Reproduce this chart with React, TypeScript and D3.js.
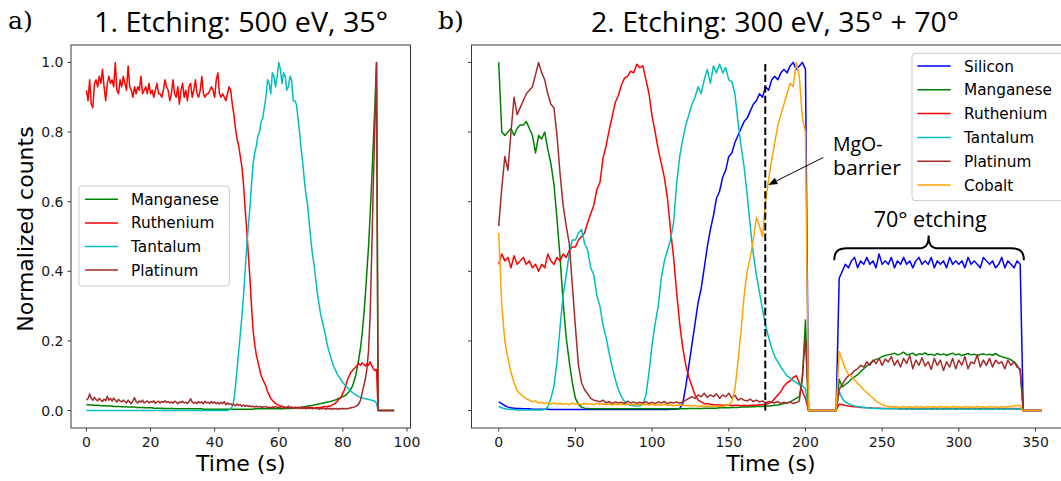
import React from "react";
import * as d3 from "d3";

// ---------- Panel a) : sampled every 0.5 s from t = 0 ----------
const LEFT_STEP = 0.5;
const L_MN = [
  0.017, 0.017, 0.016, 0.016, 0.016, 0.015, 0.015, 0.015, 0.015, 0.014,
  0.014, 0.014, 0.014, 0.013, 0.013, 0.013, 0.013, 0.012, 0.012, 0.012,
  0.012, 0.012, 0.011, 0.011, 0.011, 0.011, 0.010, 0.010, 0.010, 0.010,
  0.010, 0.009, 0.009, 0.009, 0.009, 0.009, 0.008, 0.008, 0.008, 0.008,
  0.008, 0.008, 0.007, 0.007, 0.007, 0.007, 0.007, 0.007, 0.006, 0.006,
  0.006, 0.006, 0.006, 0.006, 0.006, 0.005, 0.005, 0.005, 0.005, 0.005,
  0.005, 0.005, 0.005, 0.005, 0.005, 0.005, 0.005, 0.005, 0.005, 0.005,
  0.005, 0.005, 0.005, 0.004, 0.004, 0.004, 0.004, 0.004, 0.004, 0.004,
  0.004, 0.004, 0.004, 0.004, 0.004, 0.004, 0.004, 0.004, 0.004, 0.004,
  0.004, 0.004, 0.004, 0.004, 0.004, 0.004, 0.004, 0.004, 0.004, 0.004,
  0.004, 0.004, 0.004, 0.004, 0.004, 0.005, 0.005, 0.005, 0.005, 0.005,
  0.005, 0.005, 0.005, 0.005, 0.005, 0.005, 0.005, 0.005, 0.005, 0.005,
  0.005, 0.005, 0.005, 0.005, 0.006, 0.006, 0.006, 0.006, 0.007, 0.007,
  0.007, 0.008, 0.008, 0.009, 0.010, 0.010, 0.011, 0.012, 0.013, 0.013,
  0.014, 0.015, 0.016, 0.017, 0.018, 0.019, 0.020, 0.021, 0.022, 0.023,
  0.024, 0.025, 0.026, 0.027, 0.029, 0.030, 0.032, 0.034, 0.036, 0.038,
  0.040, 0.042, 0.045, 0.050, 0.055, 0.062, 0.070, 0.085, 0.100, 0.125,
  0.150, 0.180, 0.220, 0.270, 0.330, 0.400, 0.470, 0.560, 0.660, 0.770,
  0.880, 1.000, 0, 0, 0, 0, 0, 0, 0, 0,
  0, 0, 0,
];
const L_RU = [
  0.92, 0.89, 0.95, 0.88, 0.87, 0.94, 0.95, 0.93, 0.96, 0.94,
  0.98, 0.93, 0.89, 0.94, 0.96, 0.94, 0.95, 0.93, 1.00, 0.92,
  0.91, 0.95, 0.93, 0.96, 0.94, 0.92, 0.99, 0.93, 0.92, 0.90,
  0.93, 0.91, 0.93, 0.92, 0.96, 0.91, 0.92, 0.93, 0.91, 0.94,
  0.91, 0.92, 0.90, 0.92, 0.94, 0.91, 0.91, 0.90, 0.92, 0.95,
  0.93, 0.92, 0.89, 0.91, 0.95, 0.91, 0.90, 0.93, 0.88, 0.92,
  0.94, 0.90, 0.92, 0.89, 0.93, 0.94, 0.90, 0.92, 0.95, 0.91,
  0.90, 0.92, 0.96, 0.91, 0.90, 0.91, 0.91, 0.92, 0.93, 0.92,
  0.90, 0.95, 0.97, 0.91, 0.90, 0.91, 0.90, 0.89, 0.91, 0.93,
  0.92, 0.88, 0.85, 0.81, 0.78, 0.76, 0.73, 0.70, 0.65, 0.58,
  0.52, 0.45, 0.38, 0.30, 0.23, 0.19, 0.16, 0.14, 0.12, 0.10,
  0.09, 0.08, 0.07, 0.055, 0.045, 0.035, 0.03, 0.025, 0.02, 0.018,
  0.015, 0.013, 0.012, 0.010, 0.008, 0.010, 0.012, 0.008, 0.010, 0.007,
  0.010, 0.008, 0.009, 0.007, 0.008, 0.010, 0.007, 0.008, 0.009, 0.010,
  0.008, 0.009, 0.007, 0.008, 0.009, 0.008, 0.010, 0.009, 0.011, 0.012,
  0.010, 0.013, 0.012, 0.015, 0.018, 0.020, 0.025, 0.030, 0.035, 0.040,
  0.050, 0.060, 0.075, 0.090, 0.100, 0.110, 0.115, 0.120, 0.125, 0.130,
  0.135, 0.130, 0.137, 0.133, 0.128, 0.135, 0.130, 0.140, 0.130, 0.120,
  0.115, 0.118, 0, 0, 0, 0, 0, 0, 0, 0,
  0, 0, 0,
];
const L_TA = [
  0, 0, 0, 0, 0, 0, 0, 0, 0, 0,
  0, 0, 0, 0, 0, 0, 0, 0, 0, 0,
  0, 0, 0, 0, 0, 0, 0, 0, 0, 0,
  0, 0, 0, 0, 0, 0, 0, 0, 0, 0,
  0, 0, 0, 0, 0, 0, 0, 0, 0, 0,
  0, 0, 0, 0, 0, 0, 0, 0, 0, 0,
  0, 0, 0, 0, 0, 0, 0, 0, 0, 0,
  0, 0, 0, 0, 0, 0, 0, 0, 0, 0,
  0, 0, 0, 0, 0, 0, 0, 0, 0, 0.002,
  0.005, 0.012, 0.03, 0.07, 0.12, 0.17, 0.22, 0.27, 0.33, 0.40,
  0.47, 0.53, 0.58, 0.65, 0.71, 0.74, 0.76, 0.79, 0.80, 0.83,
  0.84, 0.87, 0.90, 0.95, 0.94, 0.91, 0.97, 0.96, 0.93, 0.96,
  1.00, 0.98, 0.94, 0.97, 0.96, 0.92, 0.93, 0.96, 0.95, 0.89,
  0.89, 0.88, 0.84, 0.80, 0.75, 0.71, 0.66, 0.62, 0.59, 0.54,
  0.49, 0.45, 0.42, 0.38, 0.34, 0.31, 0.28, 0.26, 0.24, 0.22,
  0.195, 0.175, 0.16, 0.145, 0.13, 0.12, 0.11, 0.10, 0.095, 0.087,
  0.080, 0.075, 0.070, 0.066, 0.060, 0.056, 0.052, 0.048, 0.045, 0.042,
  0.040, 0.038, 0.037, 0.035, 0.034, 0.033, 0.032, 0.031, 0.030, 0.028,
  0.027, 0.020, 0, 0, 0, 0, 0, 0, 0, 0,
  0, 0, 0,
];
const L_PT = [
  0.030, 0.035, 0.048, 0.035, 0.030, 0.038, 0.032, 0.028, 0.035, 0.030,
  0.026, 0.033, 0.028, 0.041, 0.030, 0.035, 0.027, 0.036, 0.030, 0.025,
  0.032, 0.028, 0.025, 0.030, 0.026, 0.022, 0.030, 0.025, 0.020, 0.028,
  0.037, 0.026, 0.022, 0.028, 0.024, 0.030, 0.022, 0.025, 0.028, 0.022,
  0.026, 0.024, 0.028, 0.021, 0.025, 0.027, 0.022, 0.026, 0.024, 0.028,
  0.023, 0.026, 0.022, 0.025, 0.021, 0.027, 0.024, 0.020, 0.025, 0.023,
  0.027, 0.022, 0.024, 0.020, 0.026, 0.034, 0.025, 0.021, 0.024, 0.020,
  0.026, 0.022, 0.025, 0.020, 0.027, 0.022, 0.024, 0.020, 0.026, 0.021,
  0.025, 0.020, 0.023, 0.019, 0.024, 0.020, 0.026, 0.017, 0.022, 0.018,
  0.020, 0.016, 0.018, 0.014, 0.019, 0.015, 0.017, 0.013, 0.016, 0.012,
  0.015, 0.012, 0.014, 0.011, 0.013, 0.010, 0.013, 0.010, 0.012, 0.009,
  0.011, 0.010, 0.012, 0.008, 0.010, 0.008, 0.011, 0.009, 0.012, 0.008,
  0.010, 0.009, 0.013, 0.008, 0.010, 0.007, 0.012, 0.008, 0.010, 0.006,
  0.009, 0.007, 0.010, 0.006, 0.008, 0.006, 0.009, 0.005, 0.008, 0.006,
  0.008, 0.005, 0.007, 0.005, 0.007, 0.004, 0.006, 0.005, 0.007, 0.004,
  0.006, 0.005, 0.006, 0.004, 0.006, 0.005, 0.006, 0.004, 0.006, 0.005,
  0.006, 0.005, 0.006, 0.005, 0.007, 0.008, 0.009, 0.010, 0.012, 0.015,
  0.020, 0.030, 0.050, 0.070, 0.090, 0.120, 0.170, 0.270, 0.450, 0.650,
  0.820, 1.000, 0, 0, 0, 0, 0, 0, 0, 0,
  0, 0, 0,
];

// ---------- Panel b) : sampled every 2 s from t = 0 ----------
const RIGHT_STEP = 2;
const R_SI = [
  0.025, 0.02, 0.014, 0.01, 0.008, 0.007, 0.006, 0.006, 0.005, 0.005,
  0.005, 0.004, 0.004, 0.004, 0.004, 0.004, 0.004, 0.003, 0.003, 0.003,
  0.003, 0.003, 0.003, 0.003, 0.003, 0.003, 0.003, 0.003, 0.003, 0.003,
  0.003, 0.003, 0.003, 0.003, 0.003, 0.003, 0.003, 0.003, 0.003, 0.003,
  0.003, 0.003, 0.003, 0.003, 0.003, 0.003, 0.003, 0.003, 0.003, 0.003,
  0.003, 0.003, 0.003, 0.003, 0.003, 0.003, 0.004, 0.004, 0.004, 0.006,
  0.02, 0.07, 0.13, 0.19, 0.25, 0.31, 0.35, 0.41, 0.47, 0.52,
  0.56, 0.61, 0.63, 0.67, 0.69, 0.73, 0.74, 0.77, 0.79, 0.81,
  0.83, 0.84, 0.86, 0.88, 0.89, 0.91, 0.90, 0.93, 0.92, 0.95,
  0.96, 0.95, 0.97, 0.98, 0.97, 0.99, 1.00, 0.98, 0.99, 1.00,
  0.98, 0, 0, 0, 0, 0, 0, 0, 0, 0,
  0, 0.38, 0.40, 0.42, 0.41, 0.43, 0.44, 0.41, 0.43, 0.42,
  0.44, 0.42, 0.43, 0.41, 0.45, 0.42, 0.43, 0.42, 0.44, 0.41,
  0.43, 0.42, 0.44, 0.42, 0.43, 0.41, 0.43, 0.44, 0.42, 0.43,
  0.42, 0.44, 0.41, 0.43, 0.42, 0.43, 0.41, 0.44, 0.42, 0.43,
  0.42, 0.43, 0.41, 0.44, 0.42, 0.43, 0.42, 0.41, 0.44, 0.43,
  0.42, 0.43, 0.41, 0.42, 0.44, 0.41, 0.43, 0.42, 0.41, 0.43,
  0.42, 0, 0, 0, 0, 0, 0, 0,
];
const R_MN = [
  1.00, 0.80, 0.79, 0.80, 0.81, 0.79, 0.81, 0.82, 0.82, 0.83,
  0.81, 0.79, 0.74, 0.79, 0.78, 0.80, 0.75, 0.71, 0.65, 0.55,
  0.44, 0.31, 0.21, 0.14, 0.08, 0.035, 0.018, 0.010, 0.007, 0.006,
  0.005, 0.005, 0.005, 0.005, 0.005, 0.005, 0.005, 0.005, 0.005, 0.005,
  0.005, 0.005, 0.005, 0.005, 0.005, 0.005, 0.005, 0.005, 0.005, 0.005,
  0.005, 0.005, 0.005, 0.005, 0.005, 0.005, 0.005, 0.005, 0.005, 0.005,
  0.005, 0.005, 0.006, 0.006, 0.006, 0.006, 0.006, 0.007, 0.007, 0.007,
  0.007, 0.007, 0.008, 0.008, 0.008, 0.008, 0.009, 0.009, 0.009, 0.010,
  0.010, 0.010, 0.011, 0.011, 0.012, 0.012, 0.012, 0.013, 0.013, 0.014,
  0.015, 0.016, 0.018, 0.020, 0.022, 0.025, 0.030, 0.035, 0.040, 0.090,
  0.26, 0, 0, 0, 0, 0, 0, 0, 0, 0,
  0, 0.090, 0.068, 0.075, 0.082, 0.090, 0.097, 0.103, 0.112, 0.120,
  0.128, 0.135, 0.142, 0.147, 0.150, 0.155, 0.158, 0.160, 0.162, 0.165,
  0.160, 0.163, 0.168, 0.160, 0.162, 0.165, 0.158, 0.163, 0.161, 0.166,
  0.160, 0.162, 0.158, 0.164, 0.160, 0.163, 0.159, 0.162, 0.165, 0.160,
  0.163, 0.158, 0.161, 0.164, 0.160, 0.162, 0.158, 0.161, 0.163, 0.160,
  0.162, 0.159, 0.164, 0.158, 0.155, 0.152, 0.150, 0.146, 0.140, 0.130,
  0.115, 0, 0, 0, 0, 0, 0, 0,
];
const R_RU = [
  0.42, 0.45, 0.43, 0.44, 0.41, 0.445, 0.42, 0.43, 0.44, 0.42,
  0.43, 0.41, 0.42, 0.40, 0.42, 0.41, 0.45, 0.43, 0.42, 0.44,
  0.43, 0.45, 0.44, 0.46, 0.47, 0.47, 0.49, 0.50, 0.51, 0.54,
  0.565, 0.59, 0.635, 0.655, 0.725, 0.76, 0.805, 0.845, 0.885, 0.905,
  0.935, 0.955, 0.96, 0.975, 0.97, 0.995, 0.985, 0.99, 0.95, 0.91,
  0.845, 0.80, 0.75, 0.71, 0.67, 0.61, 0.52, 0.44, 0.34, 0.25,
  0.18, 0.13, 0.095, 0.07, 0.045, 0.03, 0.025, 0.02, 0.02, 0.018,
  0.017, 0.016, 0.016, 0.015, 0.015, 0.016, 0.014, 0.015, 0.015, 0.014,
  0.015, 0.014, 0.015, 0.015, 0.016, 0.016, 0.017, 0.018, 0.020, 0.025,
  0.035, 0.045, 0.055, 0.070, 0.080, 0.085, 0.095, 0.100, 0.080, 0.055,
  0.035, 0, 0, 0, 0, 0, 0, 0, 0, 0,
  0, 0.019, 0.017, 0.015, 0.013, 0.012, 0.011, 0.010, 0.009, 0.009,
  0.008, 0.008, 0.007, 0.007, 0.007, 0.006, 0.006, 0.006, 0.006, 0.006,
  0.006, 0.005, 0.006, 0.005, 0.006, 0.005, 0.006, 0.005, 0.006, 0.005,
  0.006, 0.005, 0.006, 0.005, 0.006, 0.005, 0.006, 0.005, 0.006, 0.005,
  0.006, 0.005, 0.006, 0.005, 0.006, 0.005, 0.006, 0.005, 0.006, 0.005,
  0.006, 0.005, 0.006, 0.005, 0.006, 0.005, 0.006, 0.005, 0.006, 0.005,
  0.006, 0, 0, 0, 0, 0, 0, 0,
];
const R_TA = [
  0.012, 0.008, 0.005, 0.004, 0.003, 0.003, 0.002, 0.002, 0.002, 0.002,
  0.002, 0.002, 0.002, 0.002, 0.002, 0.003, 0.010, 0.035, 0.070, 0.140,
  0.24, 0.33, 0.39, 0.45, 0.49, 0.49, 0.51, 0.52, 0.48, 0.46,
  0.41, 0.39, 0.33, 0.30, 0.245, 0.21, 0.165, 0.125, 0.09, 0.06,
  0.040, 0.026, 0.018, 0.015, 0.014, 0.013, 0.014, 0.018, 0.045, 0.11,
  0.19, 0.25, 0.30, 0.38, 0.43, 0.46, 0.49, 0.54, 0.65, 0.73,
  0.78, 0.82, 0.85, 0.88, 0.90, 0.93, 0.91, 0.95, 0.98, 0.94,
  0.99, 0.97, 0.995, 0.97, 0.985, 0.95, 0.945, 0.91, 0.83, 0.76,
  0.70, 0.62, 0.53, 0.45, 0.39, 0.34, 0.29, 0.245, 0.21, 0.18,
  0.155, 0.14, 0.125, 0.112, 0.10, 0.094, 0.086, 0.08, 0.075, 0.07,
  0.064, 0, 0, 0, 0, 0, 0, 0, 0, 0,
  0, 0.055, 0.035, 0.025, 0.020, 0.016, 0.013, 0.011, 0.010, 0.009,
  0.008, 0.007, 0.007, 0.006, 0.006, 0.006, 0.005, 0.005, 0.005, 0.005,
  0.005, 0.004, 0.005, 0.004, 0.005, 0.004, 0.005, 0.004, 0.005, 0.004,
  0.005, 0.004, 0.005, 0.004, 0.005, 0.004, 0.005, 0.004, 0.005, 0.004,
  0.005, 0.004, 0.005, 0.004, 0.005, 0.004, 0.005, 0.004, 0.005, 0.004,
  0.005, 0.004, 0.005, 0.004, 0.005, 0.004, 0.005, 0.004, 0.005, 0.004,
  0.005, 0, 0, 0, 0, 0, 0, 0,
];
const R_PT = [
  0.53, 0.64, 0.73, 0.69, 0.80, 0.90, 0.85, 0.87, 0.89, 0.91,
  0.92, 0.93, 0.965, 1.00, 0.97, 0.95, 0.91, 0.88, 0.87, 0.79,
  0.68, 0.59, 0.53, 0.48, 0.36, 0.24, 0.13, 0.08, 0.06, 0.048,
  0.035, 0.030, 0.028, 0.025, 0.030, 0.022, 0.026, 0.020, 0.025, 0.022,
  0.024, 0.020, 0.027, 0.022, 0.025, 0.020, 0.024, 0.021, 0.026, 0.020,
  0.024, 0.020, 0.025, 0.022, 0.026, 0.020, 0.024, 0.022, 0.025, 0.021,
  0.025, 0.030, 0.035, 0.040, 0.035, 0.045, 0.040, 0.050, 0.038, 0.045,
  0.040, 0.048, 0.035, 0.045, 0.040, 0.050, 0.036, 0.044, 0.030, 0.035,
  0.030, 0.028, 0.033, 0.026, 0.030, 0.025, 0.028, 0.022, 0.026, 0.024,
  0.022, 0.026, 0.020, 0.024, 0.021, 0.025, 0.020, 0.023, 0.028, 0.100,
  0.21, 0, 0, 0, 0, 0, 0, 0, 0, 0,
  0, 0.060, 0.075, 0.090, 0.100, 0.105, 0.115, 0.120, 0.130, 0.125,
  0.140, 0.130, 0.145, 0.135, 0.150, 0.130, 0.148, 0.140, 0.155, 0.130,
  0.145, 0.125, 0.150, 0.135, 0.158, 0.120, 0.145, 0.130, 0.152, 0.128,
  0.140, 0.118, 0.150, 0.130, 0.145, 0.115, 0.140, 0.125, 0.150, 0.120,
  0.145, 0.130, 0.155, 0.120, 0.140, 0.135, 0.160, 0.125, 0.145, 0.130,
  0.150, 0.125, 0.145, 0.135, 0.140, 0.120, 0.145, 0.130, 0.140, 0.125,
  0.120, 0, 0, 0, 0, 0, 0, 0,
];
const R_CO = [
  0.51, 0.30, 0.20, 0.15, 0.11, 0.08, 0.058, 0.048, 0.040, 0.034,
  0.030, 0.025, 0.028, 0.022, 0.024, 0.020, 0.023, 0.019, 0.022, 0.018,
  0.021, 0.018, 0.020, 0.017, 0.022, 0.018, 0.020, 0.017, 0.021, 0.018,
  0.020, 0.017, 0.021, 0.018, 0.019, 0.017, 0.020, 0.016, 0.019, 0.017,
  0.019, 0.016, 0.020, 0.017, 0.018, 0.016, 0.019, 0.017, 0.018, 0.016,
  0.018, 0.015, 0.017, 0.016, 0.018, 0.015, 0.017, 0.014, 0.016, 0.015,
  0.016, 0.014, 0.015, 0.013, 0.015, 0.012, 0.014, 0.012, 0.013, 0.012,
  0.013, 0.012, 0.013, 0.012, 0.014, 0.016, 0.025, 0.060, 0.140, 0.230,
  0.33, 0.40, 0.44, 0.49, 0.555, 0.53, 0.50, 0.60, 0.665, 0.72,
  0.77, 0.82, 0.85, 0.88, 0.91, 0.94, 0.93, 1.00, 0.96, 0.84,
  0.80, 0, 0, 0, 0, 0, 0, 0, 0, 0,
  0, 0.170, 0.145, 0.120, 0.105, 0.098, 0.088, 0.078, 0.070, 0.060,
  0.052, 0.044, 0.036, 0.028, 0.022, 0.017, 0.014, 0.012, 0.011, 0.010,
  0.011, 0.009, 0.012, 0.010, 0.011, 0.009, 0.012, 0.010, 0.011, 0.009,
  0.012, 0.010, 0.011, 0.009, 0.012, 0.010, 0.011, 0.009, 0.012, 0.010,
  0.011, 0.009, 0.012, 0.010, 0.011, 0.009, 0.012, 0.010, 0.011, 0.009,
  0.012, 0.010, 0.011, 0.009, 0.012, 0.010, 0.011, 0.012, 0.013, 0.015,
  0.014, 0, 0, 0, 0, 0, 0, 0,
];

const LEFT_X_TICKS = [0, 20, 40, 60, 80, 100];
const RIGHT_X_TICKS = [0, 50, 100, 150, 200, 250, 300, 350];
const Y_TICKS = [0, 0.2, 0.4, 0.6, 0.8, 1.0];
const MGO_TIME = 173.8;

const COLORS: Record<string, string> = {
  Silicon: "#0000ff",
  Manganese: "#008000",
  Ruthenium: "#ff0000",
  Tantalum: "#00bfbf",
  Platinum: "#a52a2a",
  Cobalt: "#ffa500",
};

const LEFT_SERIES: [string, number[]][] = [
  ["Manganese", L_MN],
  ["Ruthenium", L_RU],
  ["Tantalum", L_TA],
  ["Platinum", L_PT],
];
const RIGHT_SERIES: [string, number[]][] = [
  ["Silicon", R_SI],
  ["Manganese", R_MN],
  ["Ruthenium", R_RU],
  ["Tantalum", R_TA],
  ["Platinum", R_PT],
  ["Cobalt", R_CO],
];

const FONT = "'DejaVu Sans', sans-serif";
const TITLE_FONT = "'Open Sans', sans-serif";
const SPINE = "#3a3a3a";
const TXT = "#1a1a1a";

export default function App() {
  const yS = d3.scaleLinear().domain([-0.05, 1.05]).range([428, 45]);
  const lx = d3.scaleLinear().domain([-4.82, 101.1]).range([71, 410.5]);
  const rx = d3.scaleLinear().domain([-17.75, 372.75]).range([471.5, 1070.4]);
  const fmt = d3.format(".1f");

  const lineFor = (x: d3.ScaleLinear<number, number>, step: number) =>
    d3
      .line<number>()
      .x((_, i) => x(i * step))
      .y((d) => yS(d));

  const lLine = lineFor(lx, LEFT_STEP);
  const rLine = lineFor(rx, RIGHT_STEP);

  const [ly0, ly1] = [yS.range()[1], yS.range()[0]];

  const axes = (
    x: d3.ScaleLinear<number, number>,
    ticks: number[],
    showYLabels: boolean
  ) => {
    const [x0, x1] = x.range();
    return (
      <g>
        <rect x={x0} y={ly0} width={x1 - x0} height={ly1 - ly0} fill="none" stroke={SPINE} strokeWidth={1} />
        {ticks.map((t) => (
          <g key={"xt" + t}>
            <line x1={x(t)} x2={x(t)} y1={ly1} y2={ly1 + 3.5} stroke={SPINE} strokeWidth={1} />
            <text x={x(t)} y={446.5} textAnchor="middle" fontSize={14} fill={TXT}>
              {t}
            </text>
          </g>
        ))}
        {Y_TICKS.map((t) => (
          <g key={"yt" + t}>
            <line x1={x0 - 3.5} x2={x0} y1={yS(t)} y2={yS(t)} stroke={SPINE} strokeWidth={1} />
            {showYLabels && (
              <text x={x0 - 7.5} y={yS(t)} dy="0.36em" textAnchor="end" fontSize={14} fill={TXT}>
                {fmt(t)}
              </text>
            )}
          </g>
        ))}
        <text x={(x0 + x1) / 2} y={470.5} textAnchor="middle" fontSize={22} fill="#000">
          Time (s)
        </text>
      </g>
    );
  };

  const legend = (
    names: string[],
    bx: number,
    by: number,
    bw: number,
    bh: number,
    row0: number,
    rowH: number,
    lx0: number,
    lx1: number,
    tx: number
  ) => (
    <g>
      <rect x={bx} y={by} width={bw} height={bh} rx={3} fill="#fff" fillOpacity={0.85} stroke="#cccccc" strokeWidth={1} />
      {names.map((n, i) => (
        <g key={n}>
          <line x1={lx0} x2={lx1} y1={row0 + i * rowH} y2={row0 + i * rowH} stroke={COLORS[n]} strokeWidth={1.5} />
          <text x={tx} y={row0 + i * rowH} dy="0.36em" fontSize={15.3} fill="#000">
            {n}
          </text>
        </g>
      ))}
    </g>
  );

  // annotation geometry expressed in data coordinates
  const arrowFrom: [number, number] = [rx(211.6), yS(0.727)];
  const arrowTo: [number, number] = [rx(175.8), yS(0.648)];
  const ang = Math.atan2(arrowTo[1] - arrowFrom[1], arrowTo[0] - arrowFrom[0]);
  const hl = 9,
    hw = 3.5;
  const hb: [number, number] = [arrowTo[0] - hl * Math.cos(ang), arrowTo[1] - hl * Math.sin(ang)];
  const head = [
    arrowTo,
    [hb[0] + hw * Math.sin(ang), hb[1] - hw * Math.cos(ang)],
    [hb[0] - hw * Math.sin(ang), hb[1] + hw * Math.cos(ang)],
  ];

  const bx0 = rx(218.8),
    bx1 = rx(342.4),
    bxm = rx(280.3);
  const bEnd = yS(0.432),
    bMid = yS(0.466),
    bTip = yS(0.503);
  const brace =
    `M${bx0},${bEnd} C${bx0},${bMid + 4} ${bx0 + 3},${bMid} ${bx0 + 13},${bMid} ` +
    `L${bxm - 10},${bMid} C${bxm - 3},${bMid} ${bxm},${bMid - 3} ${bxm},${bTip} ` +
    `C${bxm},${bMid - 3} ${bxm + 3},${bMid} ${bxm + 10},${bMid} ` +
    `L${bx1 - 13},${bMid} C${bx1 - 3},${bMid} ${bx1},${bMid + 4} ${bx1},${bEnd}`;

  return (
    <svg
      width={1061}
      height={481}
      style={{ position: "absolute", left: 0, top: 0, display: "block" }}
      fontFamily={FONT}
    >
      <rect width={1061} height={481} fill="#fff" />

      {/* Panel labels and titles */}
      <text x={8} y={29} fontFamily="'DejaVu Serif', serif" fontSize={25} fill="#000">
        a)
      </text>
      <text x={438} y={29} fontFamily="'DejaVu Serif', serif" fontSize={25} fill="#000">
        b)
      </text>
      <text x={241} y={31.5} textAnchor="middle" fontFamily={TITLE_FONT} fontSize={28} textLength={294} lengthAdjust="spacingAndGlyphs" fill="#000">
        1. Etching: 500 eV, 35°
      </text>
      <text x={775} y={31.5} textAnchor="middle" fontFamily={TITLE_FONT} fontSize={28} textLength={368} lengthAdjust="spacingAndGlyphs" fill="#000">
        2. Etching: 300 eV, 35° + 70°
      </text>

      {/* y label */}
      <text transform="translate(33,229) rotate(-90)" textAnchor="middle" fontSize={22} fill="#000">
        Normalized counts
      </text>

      {/* Left panel lines */}
      <g fill="none" strokeWidth={1.5} strokeLinejoin="round">
        {LEFT_SERIES.map(([n, v]) => (
          <path key={n} d={lLine(v) || ""} stroke={COLORS[n]} />
        ))}
      </g>
      {axes(lx, LEFT_X_TICKS, true)}
      {legend(LEFT_SERIES.map((s) => s[0]), 79, 186, 150.3, 100, 199.3, 23.6, 85, 118, 131)}

      {/* Right panel lines */}
      <g fill="none" strokeWidth={1.5} strokeLinejoin="round">
        {RIGHT_SERIES.map(([n, v]) => (
          <path key={n} d={rLine(v) || ""} stroke={COLORS[n]} />
        ))}
      </g>
      <line
        x1={rx(MGO_TIME)}
        x2={rx(MGO_TIME)}
        y1={yS(0)}
        y2={yS(1)}
        stroke="#000"
        strokeWidth={2}
        strokeDasharray="7.4 3.2"
      />
      {axes(rx, RIGHT_X_TICKS, false)}
      {legend(RIGHT_SERIES.map((s) => s[0]), 912, 53.3, 170, 147.4, 66, 23.8, 917.3, 950.7, 964)}

      {/* Annotations */}
      <line x1={arrowFrom[0]} y1={arrowFrom[1]} x2={hb[0]} y2={hb[1]} stroke="#000" strokeWidth={1} />
      <polygon points={head.map((p) => p.join(",")).join(" ")} fill="#000" />
      <text x={rx(217.9)} y={yS(0.746)} fontFamily={TITLE_FONT} fontSize={19.5} fill="#000">
        MgO-
      </text>
      <text x={rx(217.9)} y={yS(0.676)} fontFamily={TITLE_FONT} fontSize={19.5} textLength={68} lengthAdjust="spacingAndGlyphs" fill="#000">
        barrier
      </text>
      <text x={rx(281.3)} y={yS(0.528)} textAnchor="middle" fontFamily={TITLE_FONT} fontSize={21.5} fill="#000">
        70° etching
      </text>
      <path d={brace} fill="none" stroke="#000" strokeWidth={2} />
    </svg>
  );
}
